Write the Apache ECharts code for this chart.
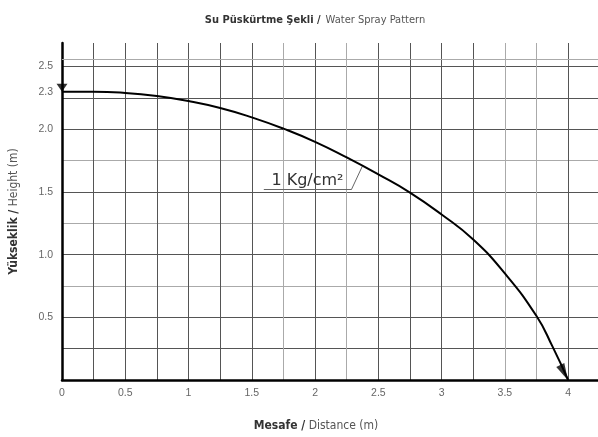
<!DOCTYPE html>
<html><head><meta charset="utf-8">
<script src="https://cdn.jsdelivr.net/npm/echarts@6/dist/echarts.min.js"></script>
<style>html,body{margin:0;padding:0;background:#fff}#c{width:598px;height:437px}</style>
</head><body><div id="c"></div>
<script>
// ---- data ----
const distance = [0, 0.25, 0.5, 0.75, 1.0, 1.25, 1.5, 1.75, 2.0, 2.25, 2.5, 2.75, 3.0, 3.25, 3.5, 3.75, 3.875, 4.0];
const height   = [2.3, 2.3, 2.29, 2.265, 2.225, 2.17, 2.095, 2.005, 1.9, 1.775, 1.64, 1.495, 1.32, 1.12, 0.85, 0.51, 0.27, 0];
const xTickLabels = [0, 0.5, 1, 1.5, 2, 2.5, 3, 3.5, 4];
const yTickLabels = [0.5, 1.0, 1.5, 2.0, 2.3, 2.5];
const pressureLabel = '1 Kg/cm²';
const titleBold = 'Su Püskürtme Şekli /';
const titleRest = 'Water Spray Pattern';
const xNameBold = 'Mesafe /';
const xNameRest = 'Distance (m)';
const yNameBold = 'Yükseklik /';
const yNameRest = 'Height (m)';

const curve = distance.map((d, i) => [d, height[i]]);
const first = curve[0];
const last = curve[curve.length - 1];

const condensed = "'Liberation Sans Narrow','DejaVu Sans Condensed','Liberation Sans',sans-serif";
const mkRich = (fs) => ({
  b: {fontFamily: condensed, fontWeight: 'bold', fontSize: fs, color: '#333'},
  n: {fontFamily: condensed, fontWeight: 'normal', fontSize: fs, color: '#555'}
});
const D = '#555', L = '#aaa';
const xColors = [D, D, D, D, D, D, L, D, L, D, D, D, D, L, L, D, D, D];
const yColors = [D, D, L, D, L, D, L, D, D, D, 'rgba(0,0,0,0)', D];

const chart = echarts.init(document.getElementById('c'), null, {renderer: 'canvas'});
chart.setOption({
  animation: false,
  backgroundColor: '#fff',
  title: {
    text: '{b|' + titleBold + '} {n|' + titleRest + '}',
    left: 310, top: 6, textAlign: 'center',
    textStyle: {rich: mkRich(11)}
  },
  grid: {left: 59, right: 0, top: 43, bottom: 54, containLabel: false},
  xAxis: {
    type: 'value', min: 0, max: 4.236, interval: 0.25,
    axisLine: {show: true, onZero: false, lineStyle: {color: '#000', width: 2.5}},
    axisTick: {show: false},
    axisLabel: {customValues: xTickLabels, margin: 8, color: '#666', fontSize: 10.5, fontFamily: 'Liberation Sans'},
    splitLine: {show: true, showMinLine: false, showMaxLine: false, lineStyle: {color: xColors, width: 1}},
    name: '{b|' + xNameBold + '} {n|' + xNameRest + '}',
    nameLocation: 'middle', nameGap: 40,
    nameTextStyle: {rich: mkRich(12), padding: [0, 28, 0, 0]}
  },
  yAxis: {
    type: 'value', min: 0, max: 2.688, interval: 0.25,
    axisLine: {show: true, onZero: false, lineStyle: {color: '#000', width: 2.5}},
    axisTick: {show: false},
    axisLabel: {customValues: yTickLabels, margin: 9, color: '#666', fontSize: 10.5, fontFamily: 'Liberation Sans',
      formatter: v => Number(v).toFixed(1)},
    splitLine: {show: true, showMinLine: false, showMaxLine: false, lineStyle: {color: yColors, width: 1}},
    name: '{b|' + yNameBold + '} {n|' + yNameRest + '}',
    nameLocation: 'middle', nameGap: 42,
    nameTextStyle: {rich: mkRich(12)}
  },
  series: [
    {
      type: 'line', data: curve, smooth: 0.5, showSymbol: false, silent: true,
      lineStyle: {color: '#000', width: 2}, z: 5,
      markLine: {
        silent: true, symbol: 'none', animation: false,
        label: {show: false},
        data: [
          {yAxis: 2.56, lineStyle: {color: L, width: 1, type: 'solid'}},
          [{coord: [1.595, 1.518]}, {coord: [2.287, 1.518]}],
          [{coord: [2.287, 1.518]}, {coord: [2.373, 1.704]}]
        ],
        lineStyle: {color: '#666', width: 1, type: 'solid'}
      },
      markPoint: {
        silent: true, symbol: 'circle', symbolSize: 0,
        data: [{coord: [1.94, 1.59]}],
        label: {show: true, position: 'inside', formatter: pressureLabel,
          fontFamily: 'DejaVu Sans', fontSize: 16, color: '#333'}
      }
    },
    {
      type: 'scatter', data: [first], symbol: 'triangle', symbolSize: [11, 8], symbolRotate: 180,
      symbolOffset: [0, -4], itemStyle: {color: '#000'}, silent: true, z: 6
    },
    {
      type: 'scatter', data: [last], symbol: 'triangle', symbolSize: [9, 17], symbolRotate: 207,
      symbolOffset: [-4, -7.4], itemStyle: {color: '#000'}, silent: true, z: 6
    }
  ]
});
</script></body></html>
